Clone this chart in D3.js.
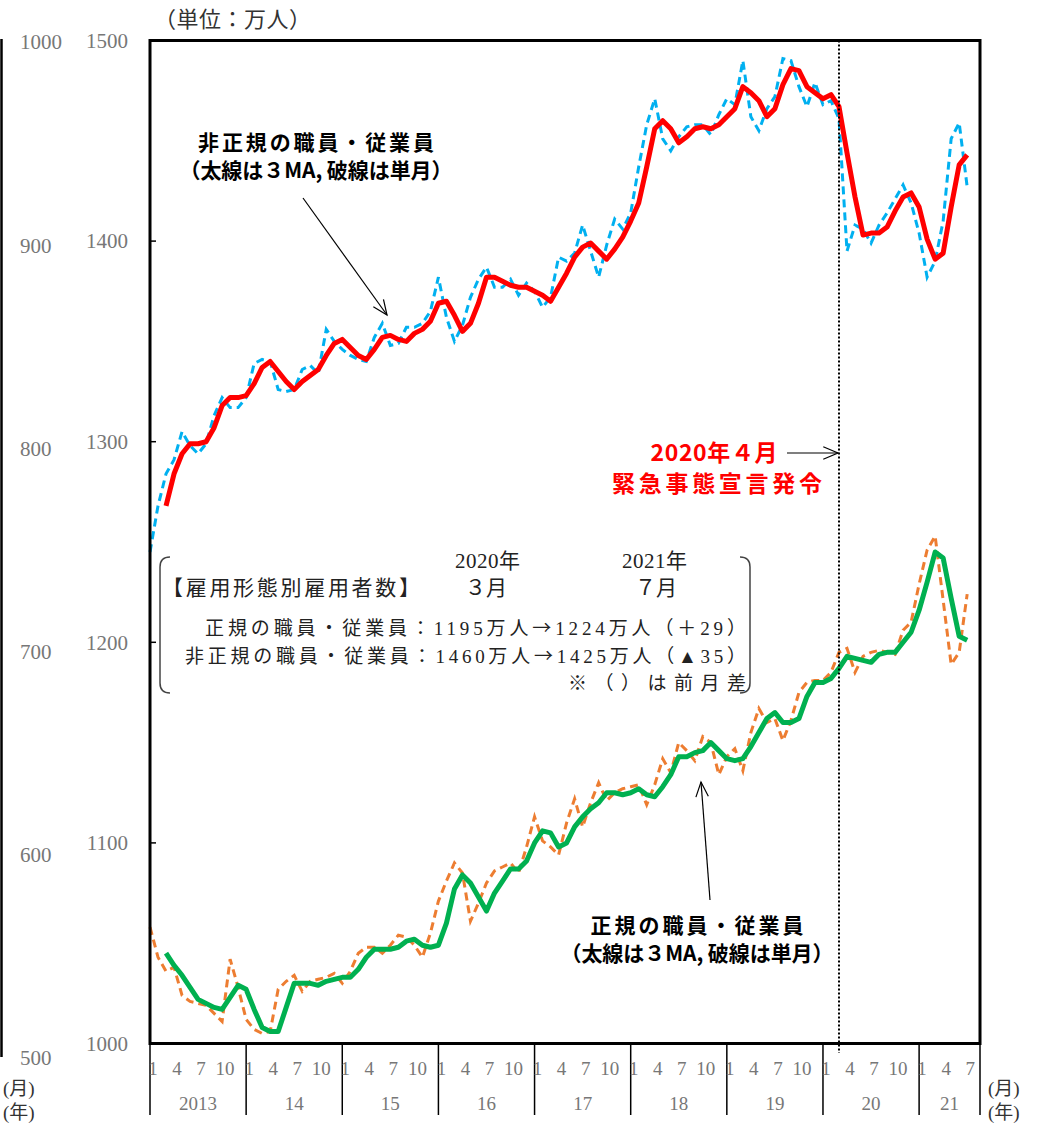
<!DOCTYPE html>
<html><head><meta charset="utf-8">
<script src="https://cdn.jsdelivr.net/npm/d3@7"></script>
<style>
body{margin:0;background:#fff;}
svg{display:block;}
</style></head>
<body>
<svg id="c" width="1043" height="1124"></svg>
<script>
// ---- data (万人), monthly from 2013-01 (index 0) to 2021-07 (index 102) ----
const startYear = 2013;
const monthTicks = [1, 4, 7, 10];
const yearLabels = ["2013", "14", "15", "16", "17", "18", "19", "20", "21"];
const innerTicks = [1000, 1100, 1200, 1300, 1400, 1500];
const outerTicks = [500, 600, 700, 800, 900, 1000];

// 非正規 単月
const nonRegularMonthly = [
1245,1268,1284,1291,1305,1298,1294,1299,1313,1322,1317,1317,
1322,1339,1341,1340,1326,1325,1326,1336,1338,1334,1356,1350,
1346,1343,1341,1340,1352,1359,1348,1349,1357,1357,1359,1365,
1382,1362,1350,1358,1372,1381,1387,1377,1377,1381,1373,1379,
1375,1367,1372,1392,1390,1394,1408,1395,1382,1398,1411,1406,
1414,1437,1458,1471,1451,1445,1452,1457,1458,1458,1453,1463,
1471,1468,1490,1462,1455,1466,1472,1491,1490,1477,1467,1479,
1468,1470,1461,1395,1408,1406,1399,1408,1414,1421,1428,1419,
1404,1382,1390,1410,1451,1459,1427];
// 非正規 3MA (starts 2013-03)
const nonRegular3MA = [
          1268,1284,1294,1299,1299,1300,1307,1318,1322,1322,
1323,1329,1337,1340,1335,1330,1326,1330,1333,1336,1343,1349,
1351,1347,1343,1341,1346,1352,1353,1351,1350,1354,1356,1360,
1369,1370,1363,1355,1359,1369,1382,1382,1380,1378,1377,1377,
1375,1373,1370,1377,1384,1392,1397,1399,1395,1391,1396,1402,
1410,1419,1437,1456,1460,1456,1449,1452,1456,1457,1456,1458,
1462,1466,1477,1474,1470,1462,1466,1478,1486,1485,1477,1474,
1471,1473,1467,1444,1422,1403,1404,1404,1407,1415,1422,1424,
1417,1401,1391,1394,1417,1438,1443];
// 正規 単月
const regularMonthly = [
1058,1043,1036,1038,1024,1021,1020,1019,1015,1011,1042,1028,
1012,1007,1005,1006,1027,1031,1034,1026,1031,1032,1033,1035,
1030,1036,1045,1048,1048,1045,1049,1054,1053,1049,1043,1055,
1071,1081,1090,1085,1061,1070,1080,1086,1088,1090,1085,1098,
1113,1101,1098,1094,1110,1122,1108,1120,1130,1121,1125,1127,
1128,1129,1119,1129,1142,1135,1150,1146,1141,1153,1150,1134,
1143,1147,1136,1155,1167,1160,1162,1151,1161,1175,1180,1181,
1181,1185,1195,1197,1185,1193,1195,1196,1195,1194,1206,1210,
1229,1246,1253,1221,1189,1195,1224];
// 正規 3MA (starts 2013-03)
const regular3MA = [
          1045,1039,1034,1028,1022,1020,1018,1017,1023,1029,
1027,1017,1008,1006,1006,1018,1030,1030,1030,1029,1031,1032,
1033,1033,1037,1043,1047,1047,1047,1048,1051,1052,1049,1048,
1049,1060,1077,1084,1080,1073,1066,1075,1081,1087,1087,1091,
1100,1106,1105,1098,1100,1108,1113,1117,1120,1125,1125,1124,
1125,1127,1124,1123,1128,1134,1143,1143,1145,1146,1150,1146,
1142,1141,1142,1148,1155,1162,1165,1160,1160,1162,1173,1180,
1180,1182,1187,1193,1192,1191,1190,1194,1195,1195,1200,1205,
1216,1230,1245,1242,1222,1203,1201];
const maOffset = 2;
const emergencyIndex = 86;

// ---- layout ----
const svg = d3.select("#c");
const L = 150, R = 980, T = 40.5, B = 1043.5;
const x = d3.scaleLinear().domain([0, 103.6]).range([L, R]);
const y = d3.scaleLinear().domain([1000, 1500]).range([B, T]);
const yOuter = d3.scaleLinear().domain([500, 1000]).range([1058, 42]);
const serif = "'Liberation Serif','DejaVu Serif','Noto Sans CJK JP',serif";
const gothic = "'Noto Sans CJK JP','Noto Sans',sans-serif";

// outer (left) axis line and labels
svg.append("line").attr("x1",1.5).attr("x2",1.5).attr("y1",39).attr("y2",1057)
  .attr("stroke","#000").attr("stroke-width",2.5);
svg.append("g").selectAll("text").data(outerTicks).join("text")
  .attr("x",20).attr("y",d=>yOuter(d)).attr("dy","0.35em")
  .attr("font-family",serif).attr("font-size",21).attr("fill","#777").text(d=>d);

// inner axis labels and ticks
svg.append("g").selectAll("text").data(innerTicks).join("text")
  .attr("x",128).attr("y",d=>y(d)).attr("dy","0.35em").attr("text-anchor","end")
  .attr("font-family",serif).attr("font-size",21).attr("fill","#777").text(d=>d);
svg.append("g").selectAll("line").data(innerTicks).join("line")
  .attr("x1",L).attr("x2",L+6).attr("y1",d=>y(d)).attr("y2",d=>y(d))
  .attr("stroke","#000").attr("stroke-width",1.5);

// title
svg.append("text").attr("x",154).attr("y",27).attr("font-family",gothic)
  .attr("font-size",22).attr("fill","#333").attr("textLength",157).attr("lengthAdjust","spacing")
  .text("（単位：万人）");

// x-axis: month labels, year separators, year labels
const yearStarts = yearLabels.map((d,k)=>k*12);
svg.append("g").selectAll("line").data(yearStarts.concat([103.6])).join("line")
  .attr("x1",d=>x(d)).attr("x2",d=>x(d)).attr("y1",B).attr("y2",1115)
  .attr("stroke","#000").attr("stroke-width",1.5);
const monthLabelData = [];
yearStarts.forEach(s=>monthTicks.forEach(m=>{ if (s+m-1 <= 102) monthLabelData.push({i:s+m-1,m}); }));
svg.append("g").selectAll("text").data(monthLabelData).join("text")
  .attr("x",d=>x(d.i)+3).attr("y",1075).attr("text-anchor","middle")
  .attr("font-family",serif).attr("font-size",19).attr("fill","#777").text(d=>d.m);
svg.append("g").selectAll("text").data(yearLabels).join("text")
  .attr("x",(d,k)=>(x(k*12)+x(Math.min(k*12+12,103.6)))/2).attr("y",1110).attr("text-anchor","middle")
  .attr("font-family",serif).attr("font-size",19).attr("fill","#777").text(d=>d);
[[3,1095,"(月)"],[3,1119,"(年)"],[988,1095,"(月)"],[988,1119,"(年)"]].forEach(([tx,ty,t])=>{
  svg.append("text").attr("x",tx).attr("y",ty).attr("font-family",serif)
    .attr("font-size",19).attr("fill","#333").text(t);
});

// lines
const line = d3.line().x(d=>x(d.i)).y(d=>y(d.v));
const toPts = (arr,off)=>arr.map((v,k)=>({i:k+off,v}));
svg.append("path").datum(toPts(nonRegularMonthly,0)).attr("d",line)
  .attr("fill","none").attr("stroke","#00B0F0").attr("stroke-width",3).attr("stroke-dasharray","8,5");
svg.append("path").datum(toPts(regularMonthly,0)).attr("d",line)
  .attr("fill","none").attr("stroke","#ED7D31").attr("stroke-width",3).attr("stroke-dasharray","8,5");
svg.append("path").datum(toPts(nonRegular3MA,maOffset)).attr("d",line)
  .attr("fill","none").attr("stroke","#FF0000").attr("stroke-width",5).attr("stroke-linejoin","round");
svg.append("path").datum(toPts(regular3MA,maOffset)).attr("d",line)
  .attr("fill","none").attr("stroke","#00B050").attr("stroke-width",5).attr("stroke-linejoin","round");

// emergency dotted line
svg.append("line").attr("x1",x(emergencyIndex)).attr("x2",x(emergencyIndex)).attr("y1",T).attr("y2",1053)
  .attr("stroke","#000").attr("stroke-width",2).attr("stroke-dasharray","2,2");

// plot frame
svg.append("rect").attr("x",L).attr("y",T).attr("width",R-L).attr("height",B-T)
  .attr("fill","none").attr("stroke","#000").attr("stroke-width",3);

// arrow helper (open V head)
function arrow(x1,y1,x2,y2,color){
  svg.append("line").attr("x1",x1).attr("y1",y1).attr("x2",x2).attr("y2",y2)
    .attr("stroke",color).attr("stroke-width",1.2);
  const a = Math.atan2(y2-y1,x2-x1), h=16, w=0.4;
  svg.append("path").attr("d",`M${x2-h*Math.cos(a-w)},${y2-h*Math.sin(a-w)}L${x2},${y2}L${x2-h*Math.cos(a+w)},${y2-h*Math.sin(a+w)}`)
    .attr("fill","none").attr("stroke",color).attr("stroke-width",1.2);
}

// annotations
function label(items,cx,size,color){
  items.forEach(([t,ty,len])=>svg.append("text").attr("x",cx-len/2).attr("y",ty)
    .attr("textLength",len).attr("lengthAdjust","spacing")
    .attr("font-family",gothic).attr("font-weight","bold").attr("font-size",size).attr("fill",color).text(t));
}
label([["非正規の職員・従業員",150,236],["（太線は３MA, 破線は単月）",178,273]],316,21,"#000");
arrow(303,198,387,315,"#000");
label([["正規の職員・従業員",933,213],["（太線は３MA, 破線は単月）",961,273]],697,21,"#000");
arrow(710,900,701,782,"#000");
label([["2020年４月",461,127]],714,23,"#FF0000");
label([["緊急事態宣言発令",492,210]],717,23,"#FF0000");
arrow(787,453,838,453,"#000");

// summary box
const bx = svg.append("g");
bx.append("path").attr("d","M170,557Q160,557 160,567L160,683Q160,693 170,693")
  .attr("fill","none").attr("stroke","#444").attr("stroke-width",1.5);
bx.append("path").attr("d","M740,557Q750,557 750,567L750,683Q750,693 740,693")
  .attr("fill","none").attr("stroke","#444").attr("stroke-width",1.5);
const bt = (tx,ty,t,len,size)=>{
  const el = bx.append("text").attr("x",tx).attr("y",ty)
    .attr("font-family",serif).attr("font-size",size||21).attr("fill","#222");
  t.split(/(→)/).forEach(part=>{
    const ts = el.append("tspan").text(part);
    if (part === "→") ts.attr("font-family",gothic);
  });
  if (len) el.attr("textLength",len).attr("lengthAdjust","spacing");
  return el;
};
bt(455,568,"2020年",65); bt(622,568,"2021年",65);
bt(162,595,"【雇用形態別雇用者数】",258); bt(465,595,"３月",42); bt(635,595,"７月",42);
bt(205,635,"正規の職員・従業員：1195万人→1224万人（＋29）",541,19);
bt(185,663,"非正規の職員・従業員：1460万人→1425万人（▲35）",561,19);
bt(568,690,"※（）は前月差",178,19);
</script>
</body></html>
